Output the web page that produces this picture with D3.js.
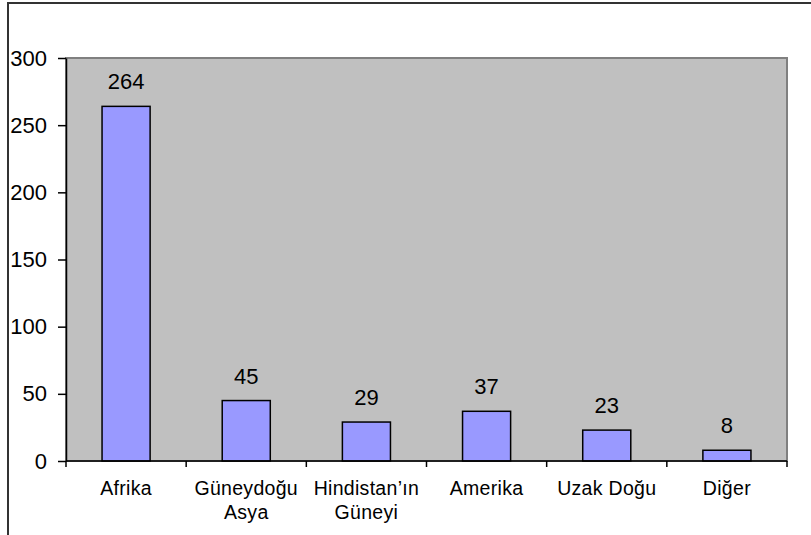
<!DOCTYPE html>
<html>
<head>
<meta charset="utf-8">
<script src="https://cdn.jsdelivr.net/npm/d3@7"></script>
<style>
  body { margin: 0; background: #fff; }
  svg text { font-family: "Liberation Sans", Arial, sans-serif; fill: #000; }
</style>
</head>
<body>
<svg width="811" height="535"></svg>
<script>
const categories = [['Afrika'], ['Güneydoğu', 'Asya'], ['Hindistan\u2019ın', 'Güneyi'], ['Amerika'], ['Uzak Doğu'], ['Diğer']];
const values = [264, 45, 29, 37, 23, 8];
const yTicks = [0, 50, 100, 150, 200, 250, 300];

const svg = d3.select('svg');
const plotLeft = 66, plotRight = 787, plotTop = 58, plotBottom = 461;

// outer chart frame (runs off the page on the right and bottom)
svg.append('rect')
  .attr('x', 8).attr('y', 3)
  .attr('width', 900).attr('height', 700)
  .attr('fill', 'none')
  .attr('stroke', '#333')
  .attr('stroke-width', 2);

const x = d3.scaleBand()
  .domain(d3.range(categories.length))
  .range([plotLeft, plotRight])
  .paddingInner(0).paddingOuter(0);

const y = d3.scaleLinear().domain([0, 300]).range([plotBottom, plotTop]);

// plot area
svg.append('rect')
  .attr('x', plotLeft).attr('y', plotTop)
  .attr('width', plotRight - plotLeft).attr('height', plotBottom - plotTop)
  .attr('fill', '#c0c0c0')
  .attr('stroke', '#808080')
  .attr('stroke-width', 2);

const barW = x.bandwidth() * 0.4;

svg.selectAll('.bar')
  .data(values)
  .enter().append('rect')
  .attr('class', 'bar')
  .attr('x', (d, i) => x(i) + (x.bandwidth() - barW) / 2)
  .attr('y', d => y(d))
  .attr('width', barW)
  .attr('height', d => y(0) - y(d))
  .attr('fill', '#9999ff')
  .attr('stroke', '#000')
  .attr('stroke-width', 1.5);

svg.selectAll('.val')
  .data(values)
  .enter().append('text')
  .attr('class', 'val')
  .attr('x', (d, i) => x(i) + x.bandwidth() / 2)
  .attr('y', d => y(d) - 17)
  .attr('text-anchor', 'middle')
  .style('font-size', '22px')
  .text(d => d);

// y axis
const yAxis = svg.append('g')
  .attr('transform', `translate(${plotLeft},0)`)
  .call(d3.axisLeft(y).tickValues(yTicks).tickSize(8).tickPadding(11).tickSizeOuter(0));
yAxis.select('.domain').attr('stroke', '#000').attr('stroke-width', 1.5);
yAxis.selectAll('.tick line').attr('stroke', '#000').attr('stroke-width', 1.5);
yAxis.selectAll('.tick text')
  .attr('fill', '#000')
  .style('font-size', '22px')
  .style('font-family', '"Liberation Sans", Arial, sans-serif');

// x axis: ticks at category boundaries
const bounds = d3.range(categories.length + 1).map(i => plotLeft + i * x.bandwidth());
svg.append('line')
  .attr('x1', plotLeft).attr('x2', plotRight)
  .attr('y1', plotBottom).attr('y2', plotBottom)
  .attr('stroke', '#000').attr('stroke-width', 1.5);
svg.selectAll('.xtick')
  .data(bounds)
  .enter().append('line')
  .attr('x1', d => d).attr('x2', d => d)
  .attr('y1', plotBottom).attr('y2', plotBottom + 6)
  .attr('stroke', '#000').attr('stroke-width', 1.5);

const xl = svg.selectAll('.xlab')
  .data(categories)
  .enter().append('text')
  .attr('class', 'xlab')
  .attr('text-anchor', 'middle')
  .style('font-size', '19.5px')
  .style('letter-spacing', '0.3px');
xl.selectAll('tspan')
  .data((d, i) => d.map(t => ({ t, i })))
  .enter().append('tspan')
  .attr('x', d => x(d.i) + x.bandwidth() / 2)
  .attr('y', (d, j) => 495 + j * 24)
  .text(d => d.t);
</script>
</body>
</html>
